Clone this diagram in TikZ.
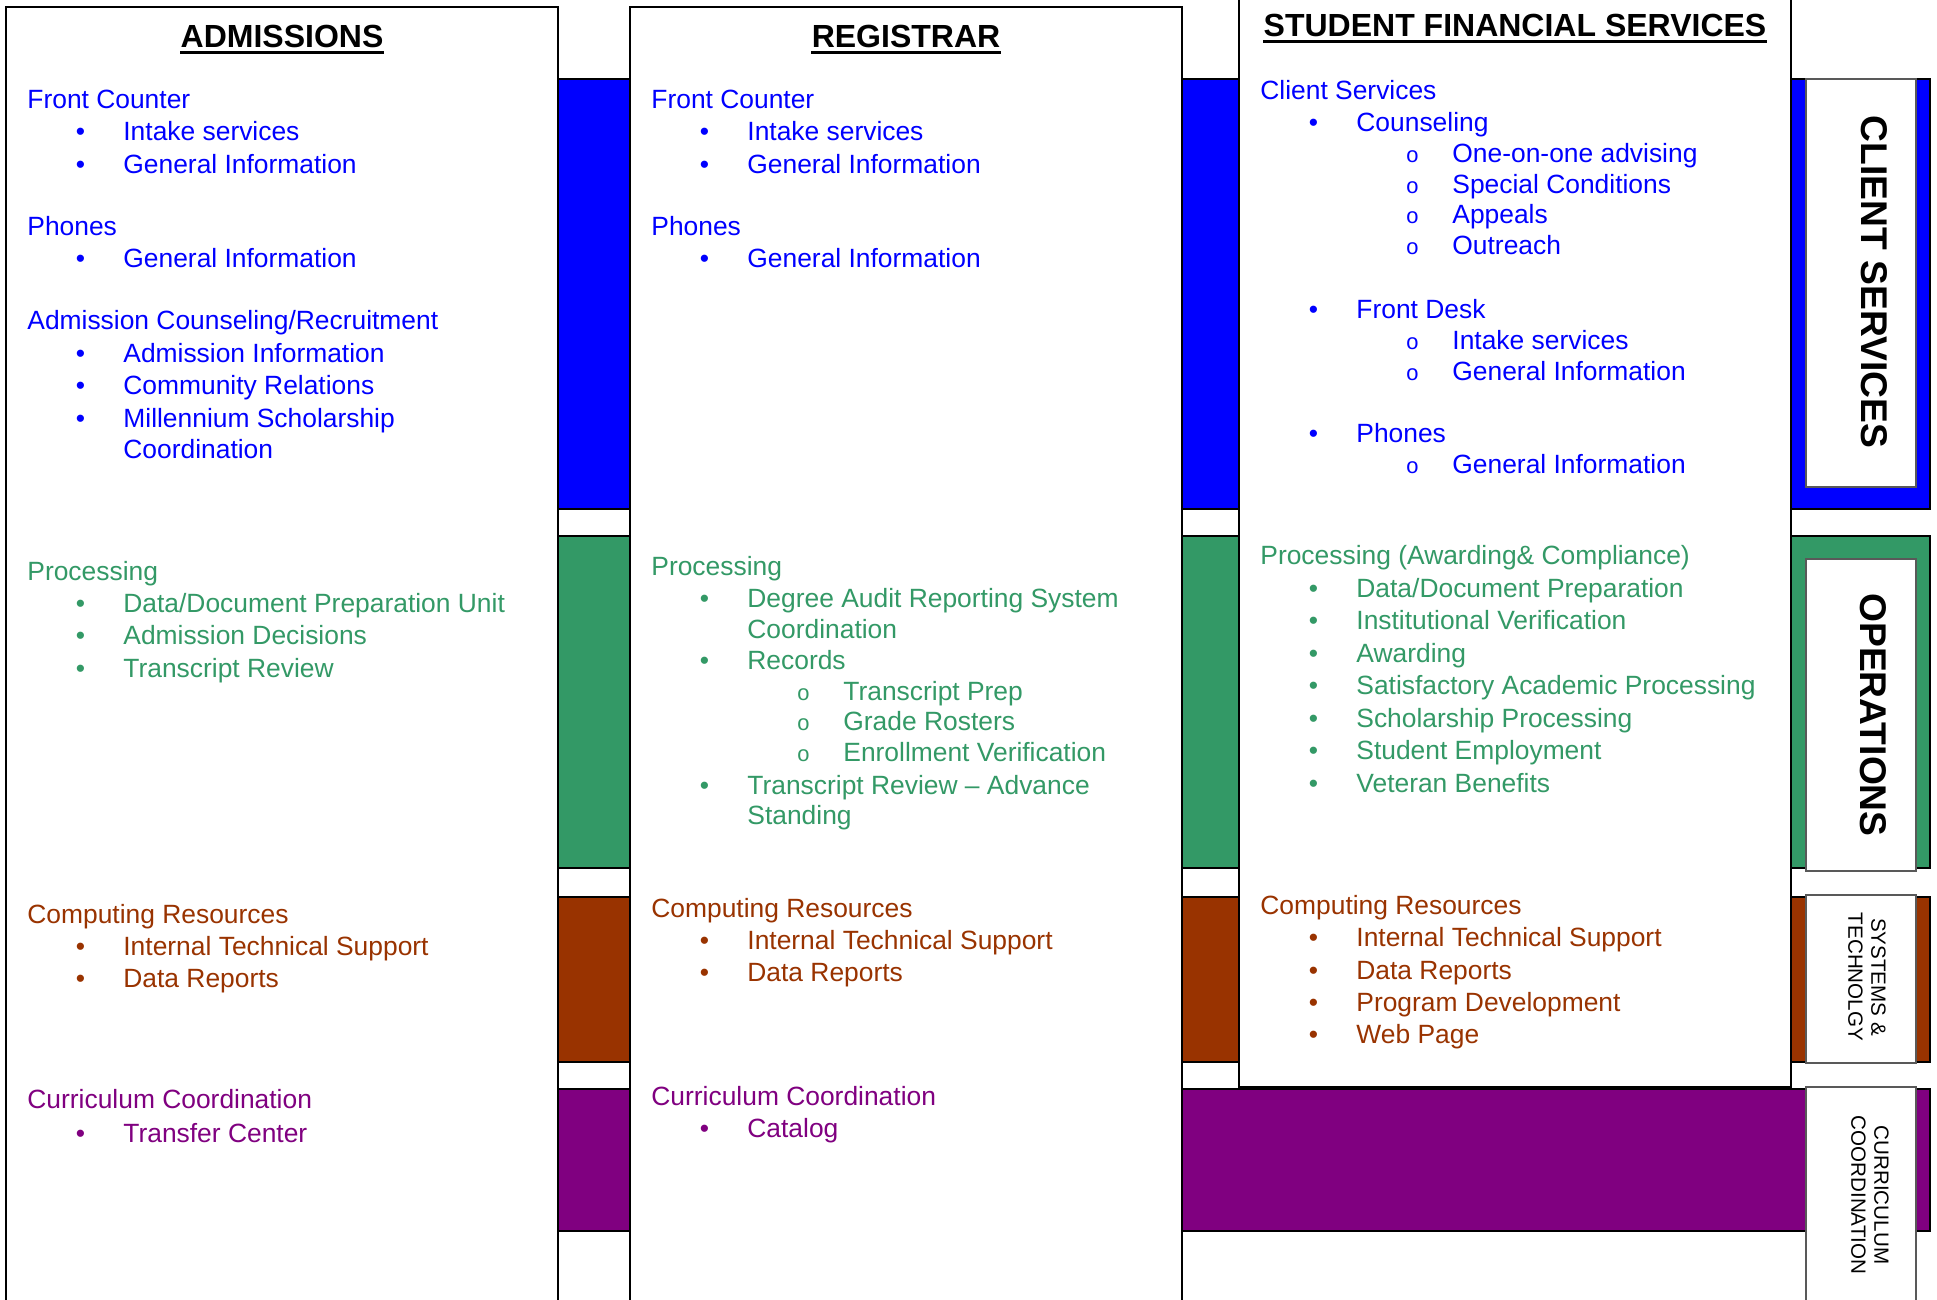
\documentclass[tikz,border=0pt]{standalone}
\usepackage{fontspec}
\setmainfont{Liberation Sans}
\newfontfamily\ringfont{Liberation Mono}

\definecolor{csblue}{RGB}{0,0,255}
\definecolor{opgreen}{RGB}{51,153,102}
\definecolor{stbrown}{RGB}{153,51,0}
\definecolor{ccpurple}{RGB}{128,0,128}

\begin{document}
\begin{tikzpicture}[x=0.5pt,y=-0.5pt]
    \tikzstyle{band} = [draw=black,line width=0.8pt]
    \tikzstyle{dept} = [draw=black,line width=1pt,fill=white]
    \tikzstyle{tab} = [draw=black!65,line width=0.8pt,fill=white]
    \tikzstyle{title} = [anchor=base,inner sep=0pt,font=\fontsize{16}{19}\selectfont\bfseries]
    \tikzstyle{rule} = [line width=1.6pt]
    \tikzstyle{topic} = [anchor=base west,inner sep=0pt,font=\fontsize{13.2}{15}\selectfont]
    \tikzstyle{point} = [topic,execute at begin node={\llap{•\hspace{19.2pt}}}]
    \tikzstyle{subpoint} = [topic,execute at begin node={\llap{{\ringfont\fontsize{11}{13}\selectfont o}\hspace{16.7pt}}}]
    \tikzstyle{tabtext} = [rotate=-90,inner sep=0pt,align=center]
    \tikzstyle{bigtab} = [tabtext,font=\fontsize{18.6}{22}\selectfont\bfseries]
    \tikzstyle{smalltab} = [tabtext,font=\fontsize{10.3}{11.5}\selectfont]

    \useasboundingbox (0,0) rectangle (1937,1300);

    % colour bands behind the columns
    \draw [band,fill=csblue] (540,79) rectangle (1930,509);
    \draw [band,fill=opgreen] (540,536) rectangle (1930,868);
    \draw [band,fill=stbrown] (540,897) rectangle (1930,1062);
    \draw [band,fill=ccpurple] (540,1089) rectangle (1930,1231);

    % columns
    \draw [dept] (6,7) rectangle (558,1320);
    \draw [dept] (630,7) rectangle (1182,1320);
    \draw [dept] (1239,-20) rectangle (1791,1087);

    % tabs
    \draw [tab] (1806,79) rectangle (1916,487);
    \draw [tab] (1806,559) rectangle (1916,871);
    \draw [tab] (1806,895) rectangle (1916,1063);
    \draw [tab] (1806,1087) rectangle (1916,1320);

    \node (cs) [bigtab] at (1874,282) {CLIENT SERVICES};
    \node (op) [bigtab] at (1873,715) {OPERATIONS};
    \node (st) [smalltab] at (1867,977) {SYSTEMS \&\\TECHNOLGY};
    \node (cc) [smalltab] at (1870,1195) {CURRICULUM\\COORDINATION};

    % admissions
    \node (adm) [title] at (282,48) {ADMISSIONS};
    \draw [rule] ([yshift=-2.2pt]adm.base west) -- ([yshift=-2.2pt]adm.base east);

    \node (afc) [topic,csblue] at (27,109) {Front Counter};
    \node (afc1) [point,csblue] at (123,141) {Intake services};
    \node (afc2) [point,csblue] at (123,174) {General Information};
    \node (aph) [topic,csblue] at (27,235) {Phones};
    \node (aph1) [point,csblue] at (123,268) {General Information};
    \node (acr) [topic,csblue] at (27,329) {Admission Counseling/Recruitment};
    \node (acr1) [point,csblue] at (123,362) {Admission Information};
    \node (acr2) [point,csblue] at (123,394) {Community Relations};
    \node (acr3) [point,csblue] at (123,427) {Millennium Scholarship};
    \node (acr3b) [topic,csblue] at (123,458) {Coordination};

    \node (apr) [topic,opgreen] at (27,580) {Processing};
    \node (apr1) [point,opgreen] at (123,612) {Data/Document Preparation Unit};
    \node (apr2) [point,opgreen] at (123,644) {Admission Decisions};
    \node (apr3) [point,opgreen] at (123,677) {Transcript Review};

    \node (acp) [topic,stbrown] at (27,923) {Computing Resources};
    \node (acp1) [point,stbrown] at (123,955) {Internal Technical Support};
    \node (acp2) [point,stbrown] at (123,987) {Data Reports};

    \node (acc) [topic,ccpurple] at (27,1108) {Curriculum Coordination};
    \node (acc1) [point,ccpurple] at (123,1142) {Transfer Center};

    % registrar
    \node (reg) [title] at (906,48) {REGISTRAR};
    \draw [rule] ([yshift=-2.2pt]reg.base west) -- ([yshift=-2.2pt]reg.base east);

    \node (rfc) [topic,csblue] at (651,109) {Front Counter};
    \node (rfc1) [point,csblue] at (747,141) {Intake services};
    \node (rfc2) [point,csblue] at (747,174) {General Information};
    \node (rph) [topic,csblue] at (651,235) {Phones};
    \node (rph1) [point,csblue] at (747,268) {General Information};

    \node (rpr) [topic,opgreen] at (651,575) {Processing};
    \node (rpr1) [point,opgreen] at (747,607) {Degree Audit Reporting System};
    \node (rpr1b) [topic,opgreen] at (747,638) {Coordination};
    \node (rpr2) [point,opgreen] at (747,669) {Records};
    \node (rpr2a) [subpoint,opgreen] at (843,700) {Transcript Prep};
    \node (rpr2b) [subpoint,opgreen] at (843,730) {Grade Rosters};
    \node (rpr2c) [subpoint,opgreen] at (843,761) {Enrollment Verification};
    \node (rpr3) [point,opgreen] at (747,794) {Transcript Review – Advance};
    \node (rpr3b) [topic,opgreen] at (747,824) {Standing};

    \node (rcp) [topic,stbrown] at (651,917) {Computing Resources};
    \node (rcp1) [point,stbrown] at (747,949) {Internal Technical Support};
    \node (rcp2) [point,stbrown] at (747,981) {Data Reports};

    \node (rcc) [topic,ccpurple] at (651,1105) {Curriculum Coordination};
    \node (rcc1) [point,ccpurple] at (747,1137) {Catalog};

    % student financial services
    \node (sfs) [title] at (1515,37) {STUDENT FINANCIAL SERVICES};
    \draw [rule] ([yshift=-2.2pt]sfs.base west) -- ([yshift=-2.2pt]sfs.base east);

    \node (scs) [topic,csblue] at (1260,100) {Client Services};
    \node (scs1) [point,csblue] at (1356,132) {Counseling};
    \node (scs1a) [subpoint,csblue] at (1452,163) {One-on-one advising};
    \node (scs1b) [subpoint,csblue] at (1452,194) {Special Conditions};
    \node (scs1c) [subpoint,csblue] at (1452,224) {Appeals};
    \node (scs1d) [subpoint,csblue] at (1452,255) {Outreach};
    \node (scs2) [point,csblue] at (1356,318) {Front Desk};
    \node (scs2a) [subpoint,csblue] at (1452,349) {Intake services};
    \node (scs2b) [subpoint,csblue] at (1452,380) {General Information};
    \node (scs3) [point,csblue] at (1356,442) {Phones};
    \node (scs3a) [subpoint,csblue] at (1452,473) {General Information};

    \node (spr) [topic,opgreen] at (1260,564) {Processing (Awarding\& Compliance)};
    \node (spr1) [point,opgreen] at (1356,597) {Data/Document Preparation};
    \node (spr2) [point,opgreen] at (1356,629) {Institutional Verification};
    \node (spr3) [point,opgreen] at (1356,662) {Awarding};
    \node (spr4) [point,opgreen] at (1356,694) {Satisfactory Academic Processing};
    \node (spr5) [point,opgreen] at (1356,727) {Scholarship Processing};
    \node (spr6) [point,opgreen] at (1356,759) {Student Employment};
    \node (spr7) [point,opgreen] at (1356,792) {Veteran Benefits};

    \node (scp) [topic,stbrown] at (1260,914) {Computing Resources};
    \node (scp1) [point,stbrown] at (1356,946) {Internal Technical Support};
    \node (scp2) [point,stbrown] at (1356,979) {Data Reports};
    \node (scp3) [point,stbrown] at (1356,1011) {Program Development};
    \node (scp4) [point,stbrown] at (1356,1043) {Web Page};

\end{tikzpicture}
\end{document}
